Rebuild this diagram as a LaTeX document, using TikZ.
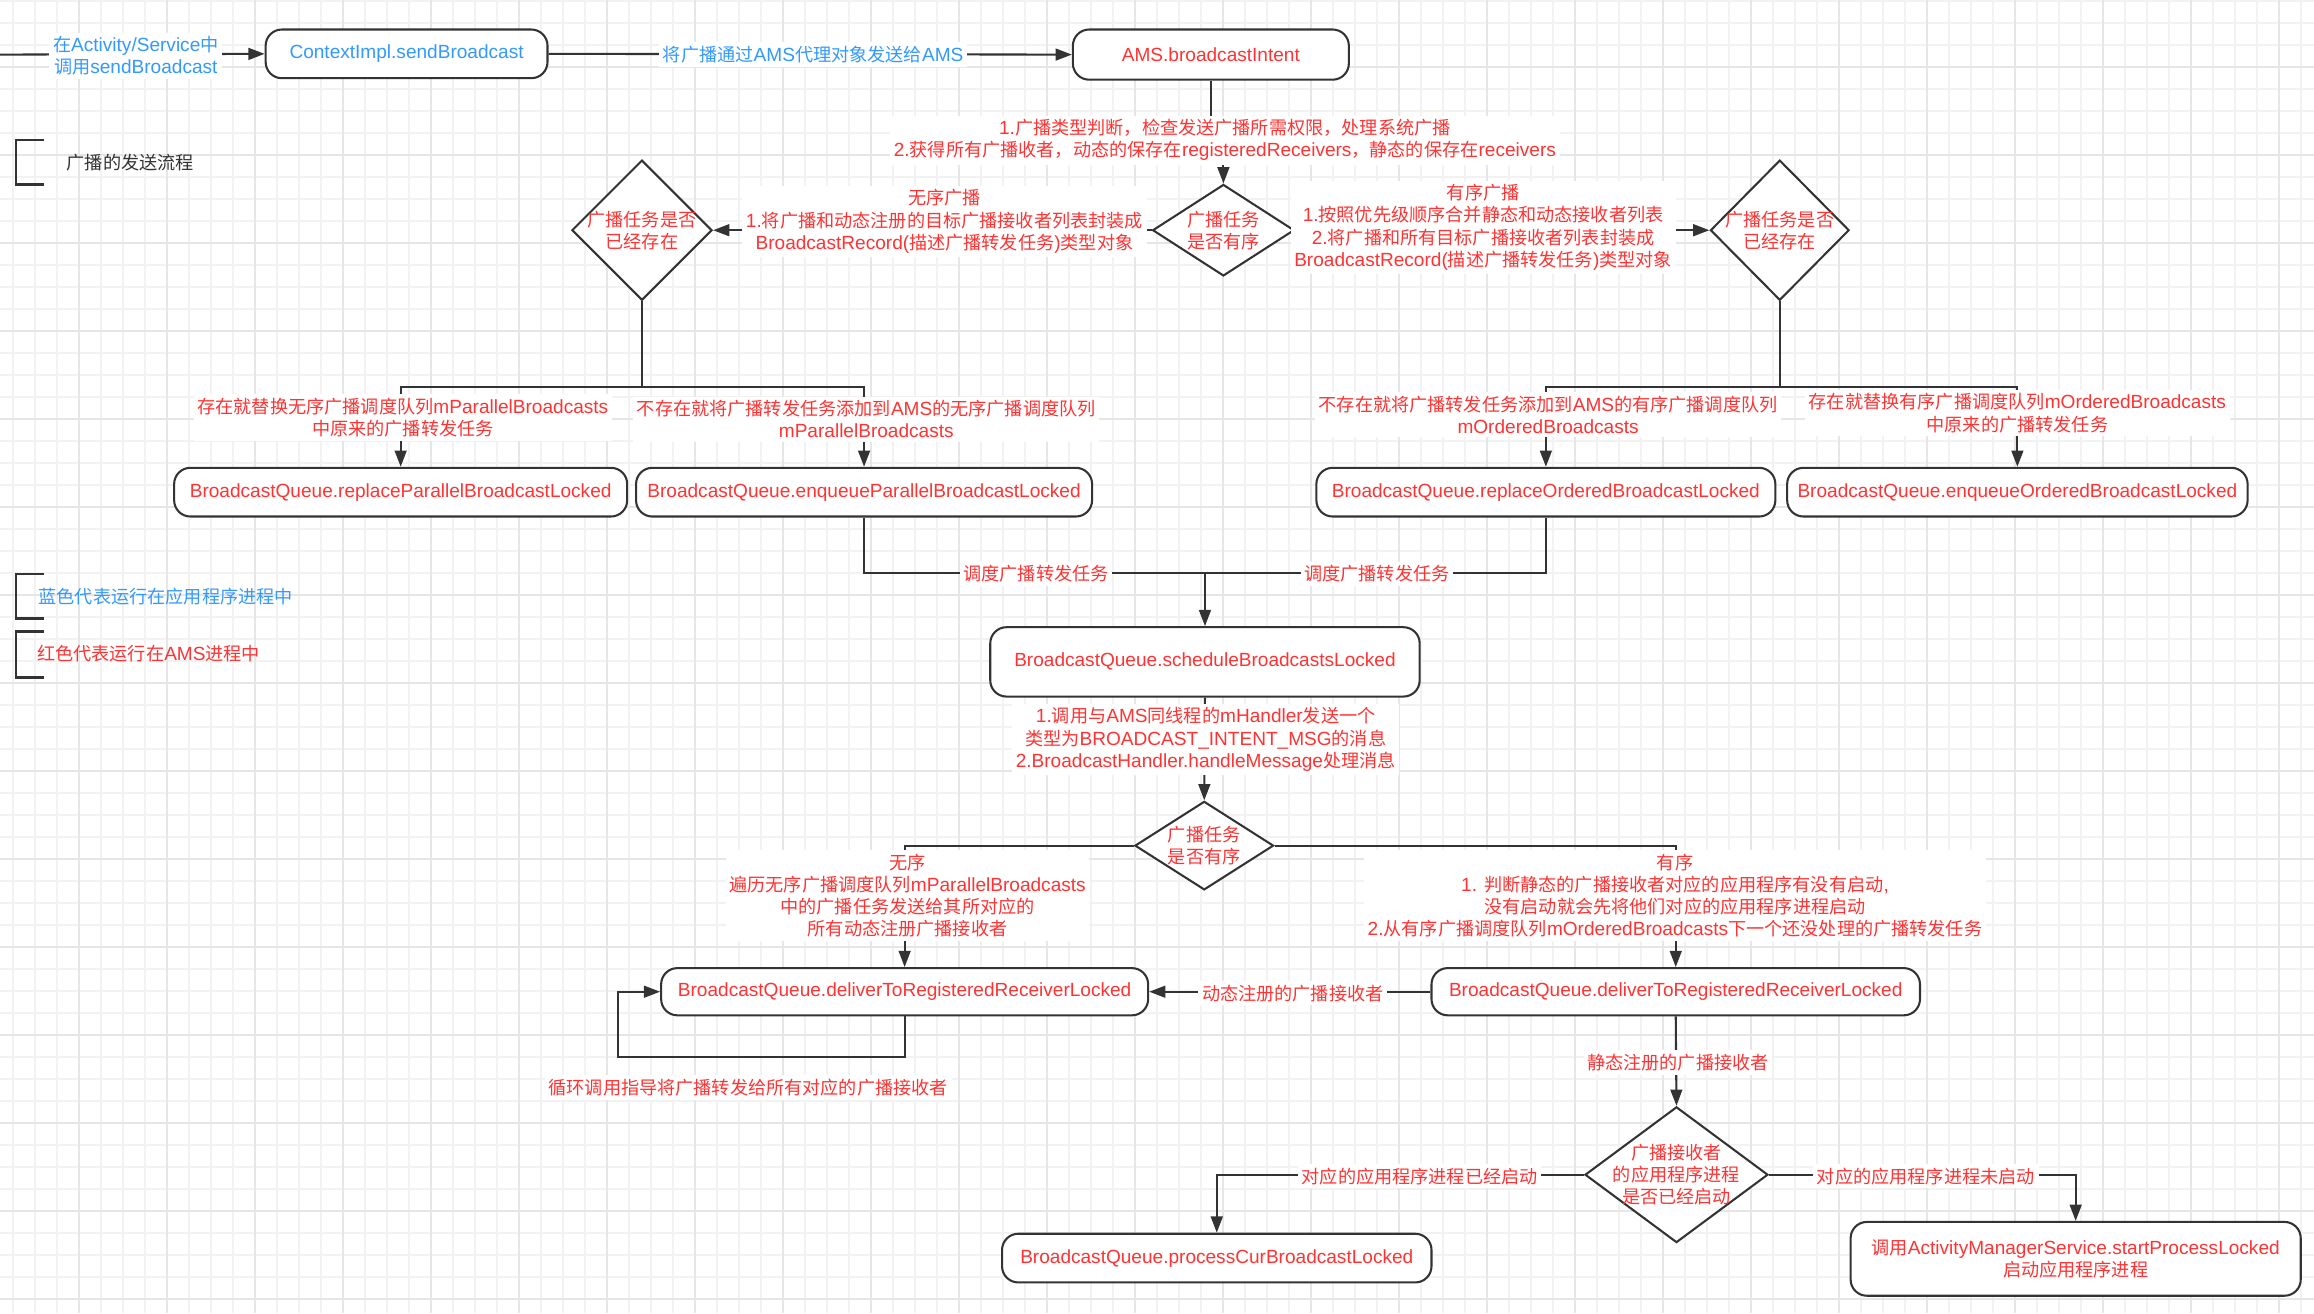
\documentclass[tikz,border=0pt]{standalone}
\usepackage{fontspec}
\setmainfont{Liberation Sans}[Scale=1.05]
\newfontfamily\latinfont{Liberation Sans}[Scale=1.05]
\newfontfamily\cjkfont{Noto Sans CJK SC}
\usetikzlibrary{shapes.geometric,arrows.meta}
% automatic switch to the CJK font for CJK characters
\XeTeXinterchartokenstate=1
\newXeTeXintercharclass\mycjkclass
\newcount\mycnt
\newcommand\setcjkrange[2]{%
  \mycnt=#1\relax
  \loop
    \XeTeXcharclass\mycnt=\mycjkclass
    \advance\mycnt by 1\relax
  \ifnum\mycnt<#2\relax\repeat}
\setcjkrange{"4E00}{"A000}
\setcjkrange{"3000}{"3040}
\setcjkrange{"FF00}{"FFF0}
\XeTeXinterchartoks 0 \mycjkclass = {\cjkfont}
\XeTeXinterchartoks 4095 \mycjkclass = {\cjkfont}
\XeTeXinterchartoks \mycjkclass 0 = {\latinfont}
\XeTeXinterchartoks 4095 0 = {\latinfont}
\definecolor{dark}{HTML}{333333}
\definecolor{myred}{RGB}{255,51,51}
\definecolor{myblue}{RGB}{51,153,255}
\definecolor{gminor}{HTML}{F2F2F2}
\definecolor{gmajor}{HTML}{E6E6E6}
\begin{document}
\begin{tikzpicture}[x=1pt,y=-1pt,
  every node/.style={font=\fontsize{12.3}{15}\selectfont},
  box/.style={draw=dark, line width=1.4pt, fill=white, rounded corners=11pt, text=myred, align=center, inner sep=0pt},
  dia/.style={diamond, draw=dark, line width=1.4pt, fill=white, text=myred, align=center, inner sep=-40pt},
  conn/.style={draw=dark, line width=1.4pt},
  arr/.style={conn, -{Triangle[length=11pt,width=8pt]}},
  lbl/.style={fill=white, text=myred, align=center, inner sep=2.5pt},
  bracket/.style={draw=dark, line width=1.6pt},
  legend/.style={anchor=west, inner sep=0pt},
  gmin/.style={draw=gminor, line width=1.2pt},
  gmaj/.style={draw=gmajor, line width=1.5pt},
]
\useasboundingbox (0,0) rectangle (1568,890);
\fill[white] (0,0) rectangle (1568,890);
% grid
\foreach \k in {0,...,104} \draw[gmin] ({8.6+14.908*\k},0) -- ({8.6+14.908*\k},890);
\foreach \k in {0,...,59} \draw[gmin] (0,{0.47+14.908*\k}) -- (1568,{0.47+14.908*\k});
\foreach \k in {3,7,...,103} \draw[gmaj] ({8.6+14.908*\k},0) -- ({8.6+14.908*\k},890);
\foreach \k in {3,7,...,59} \draw[gmaj] (0,{0.47+14.908*\k}) -- (1568,{0.47+14.908*\k});

% legend
\draw[bracket] (29.5,95) -- (11,95) -- (11,125) -- (29.5,125);
\node[legend, text=dark] (lg1) at (45,110) {广播的发送流程};
\draw[bracket] (29.5,389) -- (11,389) -- (11,419) -- (29.5,419);
\node[legend, text=myblue] (lg2) at (26,404) {蓝色代表运行在应用程序进程中};
\draw[bracket] (29.5,428) -- (11,428) -- (11,459) -- (29.5,459);
\node[legend, text=myred] (lg3) at (25,443) {红色代表运行在AMS进程中};

% nodes
\node[box, minimum width=191pt, minimum height=33pt, text=myblue] (ctx) at (275.5,36.5) {ContextImpl.sendBroadcast};
\node[box, minimum width=187pt, minimum height=34pt] (ams) at (820.5,37) {AMS.broadcastIntent};
\node[dia, minimum width=96pt, minimum height=62pt] (d1) at (829,156) {广播任务\\是否有序};
\node[dia, minimum width=95pt, minimum height=95pt] (d2) at (435,156) {广播任务是否\\已经存在};
\node[dia, minimum width=94pt, minimum height=95pt] (d3) at (1206,156) {广播任务是否\\已经存在};
\node[box, minimum width=307pt, minimum height=33pt] (b1) at (271.5,333.5) {BroadcastQueue.replaceParallelBroadcastLocked};
\node[box, minimum width=309pt, minimum height=33pt] (b2) at (585.5,333.5) {BroadcastQueue.enqueueParallelBroadcastLocked};
\node[box, minimum width=311pt, minimum height=33pt] (b3) at (1047.5,333.5) {BroadcastQueue.replaceOrderedBroadcastLocked};
\node[box, minimum width=312pt, minimum height=33pt] (b4) at (1367,333.5) {BroadcastQueue.enqueueOrderedBroadcastLocked};
\node[box, minimum width=291pt, minimum height=47pt] (sched) at (816.5,448.5) {BroadcastQueue.scheduleBroadcastsLocked};
\node[dia, minimum width=94pt, minimum height=60pt] (d4) at (816,573) {广播任务\\是否有序};
\node[box, minimum width=330pt, minimum height=32pt] (b5) at (613,672) {BroadcastQueue.deliverToRegisteredReceiverLocked};
\node[box, minimum width=331pt, minimum height=32pt] (b6) at (1135.5,672) {BroadcastQueue.deliverToRegisteredReceiverLocked};
\node[dia, minimum width=124pt, minimum height=92pt] (d5) at (1136,796) {广播接收者\\的应用程序进程\\是否已经启动};
\node[box, minimum width=291pt, minimum height=33pt] (b7) at (824.5,852.5) {BroadcastQueue.processCurBroadcastLocked};
\node[box, minimum width=305pt, minimum height=50pt] (b8) at (1406.5,853) {调用ActivityManagerService.startProcessLocked\\启动应用程序进程};

% junction coordinates
\coordinate (start) at (0,37);
\coordinate (j1) at (435,262);
\coordinate (j2) at (1206,262);
\coordinate (j3) at (816.5,388);
\coordinate (loopc) at (419,716);

% connectors
\draw[arr] (start) -- (ctx.west);
\draw[arr] (ctx.east) -- (ams.west);
\draw[arr] (ams.south) |- (824.5,92) -| (d1.north);
\draw[arr] (d1.west) -- (d2.east);
\draw[arr] (d1.east) -- (d3.west);
\draw[arr] (d2.south) -- (j1) -| (b1.north);
\draw[arr] (j1) -| (b2.north);
\draw[arr] (d3.south) -- (j2) -| (b3.north);
\draw[arr] (j2) -| (b4.north);
\draw[arr] (b2.south) |- (j3) -- (sched.north);
\draw[conn] (b3.south) |- (j3);
\draw[arr] (sched.south) -- (d4.north);
\draw[arr] (d4.west) -| (b5.north);
\draw[arr] (d4.east) -| (b6.north);
\draw[arr] (b6.west) -- (b5.east);
\draw[arr] (b5.south) |- (loopc) |- (b5.west);
\draw[arr] (b6.south) -- (d5.north);
\draw[arr] (d5.west) -| (b7.north);
\draw[arr] (d5.east) -| (b8.north);

% labels
\node[lbl, text=myblue] (l0) at (92,38) {在Activity/Service中\\调用sendBroadcast};
\node[lbl, text=myblue] (l1) at (551,37) {将广播通过AMS代理对象发送给AMS};
\node[lbl] (l2) at (830,95) {1.广播类型判断，检查发送广播所需权限，处理系统广播\\2.获得所有广播收者，动态的保存在registeredReceivers，静态的保存在receivers};
\node[lbl] (l3) at (640,150) {无序广播\\1.将广播和动态注册的目标广播接收者列表封装成\\BroadcastRecord(描述广播转发任务)类型对象};
\node[lbl] (l4) at (1005,154) {有序广播\\1.按照优先级顺序合并静态和动态接收者列表\\2.将广播和所有目标广播接收者列表封装成\\BroadcastRecord(描述广播转发任务)类型对象};
\node[lbl] (l5) at (273,283) {存在就替换无序广播调度队列mParallelBroadcasts\\中原来的广播转发任务};
\node[lbl] (l6) at (587,284) {不存在就将广播转发任务添加到AMS的无序广播调度队列\\mParallelBroadcasts};
\node[lbl] (l7) at (1049,281) {不存在就将广播转发任务添加到AMS的有序广播调度队列\\mOrderedBroadcasts};
\node[lbl] (l8) at (1367,280) {存在就替换有序广播调度队列mOrderedBroadcasts\\中原来的广播转发任务};
\node[lbl] (l9) at (702,389) {调度广播转发任务};
\node[lbl] (l10) at (933,389) {调度广播转发任务};
\node[lbl] (l11) at (817,501) {1.调用与AMS同线程的mHandler发送一个\\类型为BROADCAST\_INTENT\_MSG的消息\\2.BroadcastHandler.handleMessage处理消息};
\node[lbl] (l12) at (615,607) {无序\\遍历无序广播调度队列mParallelBroadcasts\\中的广播任务发送给其所对应的\\所有动态注册广播接收者};
\node[lbl] (l13) at (1135,607) {有序\\1. 判断静态的广播接收者对应的应用程序有没有启动,\\没有启动就会先将他们对应的应用程序进程启动\\2.从有序广播调度队列mOrderedBroadcasts下一个还没处理的广播转发任务};
\node[lbl] (l14) at (876,673) {动态注册的广播接收者};
\node[lbl] (l15) at (507,737) {循环调用指导将广播转发给所有对应的广播接收者};
\node[lbl] (l16) at (1137,720) {静态注册的广播接收者};
\node[lbl] (l17) at (962,797) {对应的应用程序进程已经启动};
\node[lbl] (l18) at (1305,797) {对应的应用程序进程未启动};
\end{tikzpicture}
\end{document}
